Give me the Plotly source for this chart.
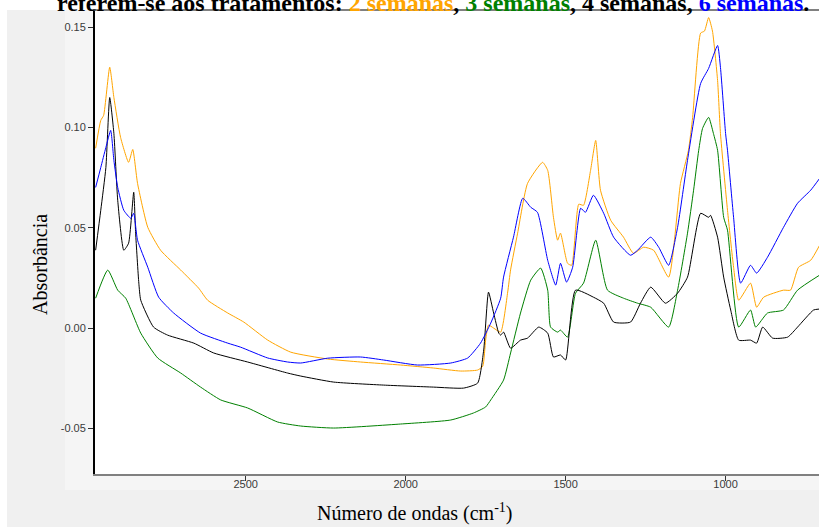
import plotly.graph_objects as go

# FTIR spectra: wavenumber (cm-1) and absorbance for each treatment
wn_2sem = [2969, 2953, 2944, 2925, 2912, 2891, 2866, 2853, 2838, 2806, 2766, 2703, 2647, 2619,
           2556, 2506, 2431, 2359, 2244, 2141, 2016, 1913, 1828, 1775, 1759, 1750, 1741, 1725,
           1703, 1681, 1672, 1650, 1619, 1572, 1556, 1538, 1525, 1516, 1494, 1481, 1459, 1444,
           1422, 1406, 1391, 1359, 1319, 1288, 1256, 1225, 1178, 1141, 1116, 1103, 1078, 1066,
           1053, 1041, 1025, 1016, 994, 975, 959, 922, 903, 881, 819, 797, 772, 734, 706]
abs_2sem = [0.0896, 0.1035, 0.106, 0.130, 0.1149, 0.095, 0.0826, 0.089, 0.0721, 0.0502, 0.0388,
            0.0289, 0.0199, 0.0139, 0.0075, 0.003, -0.006, -0.012, -0.0154, -0.0169, -0.0184,
            -0.0199, -0.0214, -0.0209, -0.019, -0.006, 0.0015, 0.0, -0.002, 0.018, 0.029, 0.0473,
            0.0721, 0.0826, 0.0786, 0.0552, 0.0438, 0.0473, 0.0323, 0.0313, 0.0617, 0.0612,
            0.0786, 0.0935, 0.0687, 0.0537, 0.0453, 0.0373, 0.0403, 0.0388, 0.0254, 0.0721,
            0.0886, 0.105, 0.147, 0.148, 0.1547, 0.148, 0.1234, 0.097, 0.0587, 0.0303, 0.0139,
            0.0224, 0.0104, 0.0154, 0.0189, 0.0189, 0.0303, 0.0338, 0.0413]

wn_3sem = [2969, 2931, 2900, 2875, 2828, 2775, 2703, 2641, 2578, 2494, 2400, 2328, 2225, 2016,
           1859, 1788, 1750, 1734, 1694, 1672, 1641, 1609, 1578, 1556, 1547, 1525, 1516, 1494,
           1469, 1444, 1406, 1369, 1319, 1275, 1234, 1178, 1150, 1119, 1100, 1084, 1072, 1053,
           1038, 1025, 1006, 994, 959, 922, 906, 869, 819, 775, 706]
abs_3sem = [0.0149, 0.0289, 0.0189, 0.0149, -0.0025, -0.0149, -0.0224, -0.0294, -0.0358,
            -0.0398, -0.0468, -0.0488, -0.0498, -0.0478, -0.0458, -0.0423, -0.0393, -0.0358,
            -0.0259, -0.0124, 0.0075, 0.0239, 0.0299, 0.0189, 0.0005, -0.002, -0.001, -0.0045,
            0.0174, 0.0224, 0.0438, 0.0189, 0.0149, 0.0124, 0.0104, 0.0005, 0.0189, 0.0473,
            0.0687, 0.0886, 0.0995, 0.105, 0.097, 0.0886, 0.0552, 0.0488, 0.0005, 0.009, 0.0005,
            0.0075, 0.009, 0.0189, 0.0264]

wn_4sem = [2969, 2953, 2937, 2925, 2912, 2900, 2881, 2866, 2850, 2844, 2834, 2828, 2788, 2744,
           2662, 2600, 2494, 2369, 2328, 2225, 2069, 1913, 1819, 1775, 1756, 1741, 1725, 1709,
           1703, 1694, 1672, 1641, 1619, 1584, 1556, 1538, 1516, 1500, 1469, 1413, 1381, 1350,
           1297, 1266, 1234, 1188, 1150, 1119, 1078, 1053, 1047, 1025, 1006, 984, 959, 922, 903,
           884, 853, 806, 775, 725, 706]
abs_4sem = [0.0388, 0.0587, 0.080, 0.1149, 0.097, 0.0637, 0.0388, 0.0423, 0.0677, 0.0473,
            0.0224, 0.0139, 0.0005, -0.0035, -0.0075, -0.0124, -0.0169, -0.0224, -0.0239,
            -0.0269, -0.0284, -0.0294, -0.0299, -0.0274, -0.0109, 0.0179, 0.0075, -0.0025,
            -0.0035, -0.002, -0.01, -0.006, -0.005, 0.0005, -0.0025, -0.0144, -0.0134, -0.0159,
            0.0189, 0.0154, 0.0124, 0.003, 0.003, 0.0124, 0.0204, 0.0124, 0.0174, 0.0254, 0.0572,
            0.0552, 0.0562, 0.0453, 0.0254, 0.009, -0.006, -0.006, -0.0075, 0.0005, -0.005,
            -0.0045, 0.0005, 0.009, 0.0095]

wn_6sem = [2969, 2953, 2937, 2922, 2912, 2900, 2881, 2859, 2850, 2838, 2806, 2772, 2725, 2641,
           2556, 2516, 2431, 2369, 2328, 2244, 2141, 2069, 1963, 1859, 1806, 1766, 1734, 1703,
           1694, 1663, 1634, 1609, 1588, 1556, 1531, 1516, 1497, 1478, 1453, 1438, 1413, 1381,
           1350, 1297, 1275, 1234, 1209, 1178, 1150, 1119, 1078, 1053, 1025, 1016, 1000, 994,
           975, 953, 922, 903, 869, 819, 775, 734, 706]
abs_6sem = [0.0701, 0.080, 0.090, 0.0985, 0.0836, 0.0701, 0.0587, 0.0547, 0.0572, 0.0438,
            0.0303, 0.0154, 0.0075, -0.0025, -0.0075, -0.0095, -0.0149, -0.0169, -0.0174,
            -0.015, -0.0144, -0.0159, -0.0184, -0.0174, -0.0149, -0.0075, 0.0025, 0.0149,
            0.0254, 0.0453, 0.0647, 0.0602, 0.0577, 0.0338, 0.0214, 0.0323, 0.0229, 0.0303,
            0.0597, 0.0577, 0.0662, 0.0572, 0.0453, 0.0363, 0.0388, 0.0453, 0.0403, 0.0313,
            0.0502, 0.0836, 0.1219, 0.1294, 0.1408, 0.1299, 0.097, 0.0886, 0.0552, 0.0224,
            0.0313, 0.0274, 0.0353, 0.0502, 0.0622, 0.0687, 0.0746]

x_ticks = [2500, 2000, 1500, 1000]
y_ticks = [0.15, 0.10, 0.05, 0.00, -0.05]

series = [
    ("2 semanas", wn_2sem, abs_2sem, "#FFA500"),
    ("3 semanas", wn_3sem, abs_3sem, "#008000"),
    ("4 semanas", wn_4sem, abs_4sem, "#000000"),
    ("6 semanas", wn_6sem, abs_6sem, "#0000FF"),
]

fig = go.Figure()
for name, xs, ys, color in series:
    fig.add_trace(go.Scatter(x=xs, y=ys, mode="lines", name=name,
                             line=dict(color=color, width=1, shape="spline", smoothing=0.5)))

W, H = 819, 527
ml, mr, mt, mb = 95, 0, 11, 53
pw, ph = W - ml - mr, H - mt - mb


def px(xp):
    return (xp - ml) / pw


def py(yp):
    return (H - mb - yp) / ph


# grey panels behind the chart
fig.add_shape(type="rect", xref="paper", yref="paper", layer="below",
              x0=px(7), x1=px(830), y0=py(540), y1=py(10),
              fillcolor="#f0f0f0", line=dict(width=0))
fig.add_shape(type="rect", xref="paper", yref="paper", layer="below",
              x0=px(65), x1=px(830), y0=py(490), y1=py(10),
              fillcolor="#f5f5f5", line=dict(width=0))
fig.add_shape(type="rect", xref="paper", yref="paper", layer="below",
              x0=0, x1=1.05, y0=0, y1=1,
              fillcolor="white", line=dict(width=0))

caption = ("<b>referem-se aos tratamentos: "
           "<span style='color:#FFA500'>2 semanas</span>, "
           "<span style='color:#008000'>3 semanas</span>, "
           "4 semanas, "
           "<span style='color:#0000FF'>6 semanas</span>.</b>")
fig.add_annotation(text=caption, xref="paper", yref="paper", x=px(55), y=py(18),
                   xanchor="left", yanchor="bottom", showarrow=False,
                   font=dict(family="Liberation Serif", size=24, color="black"))

fig.add_annotation(text="Absorbância", xref="paper", yref="paper", x=px(40), y=py(265),
                   xanchor="center", yanchor="middle", textangle=-90, showarrow=False,
                   font=dict(family="Liberation Serif", size=20, color="black"))
fig.add_annotation(text="Número de ondas (cm<sup>-1</sup>)", xref="paper", yref="paper",
                   x=px(415), y=py(512), xanchor="center", yanchor="middle", showarrow=False,
                   font=dict(family="Liberation Serif", size=20, color="black"))

tick_font = dict(family="Liberation Sans", size=11, color="#3a3a3a")
fig.update_xaxes(range=[2971, 708], tickvals=x_ticks, ticktext=[str(v) for v in x_ticks],
                 ticks="outside", ticklen=5, tickcolor="#333", tickfont=tick_font,
                 ticklabelstandoff=-6,
                 showgrid=False, zeroline=False, showline=True, linecolor="#808080",
                 linewidth=2, mirror=True)
fig.update_yaxes(range=[-0.0727, 0.158], tickvals=y_ticks,
                 ticktext=[f"{v:.2f}" for v in y_ticks],
                 ticks="outside", ticklen=5, tickcolor="#333", tickfont=tick_font,
                 showgrid=False, zeroline=False, showline=True, linecolor="black",
                 linewidth=2)

fig.update_layout(width=W, height=H, margin=dict(l=ml, r=mr, t=mt, b=mb),
                  paper_bgcolor="white", plot_bgcolor="white", showlegend=False)

fig.write_html("out.html")
